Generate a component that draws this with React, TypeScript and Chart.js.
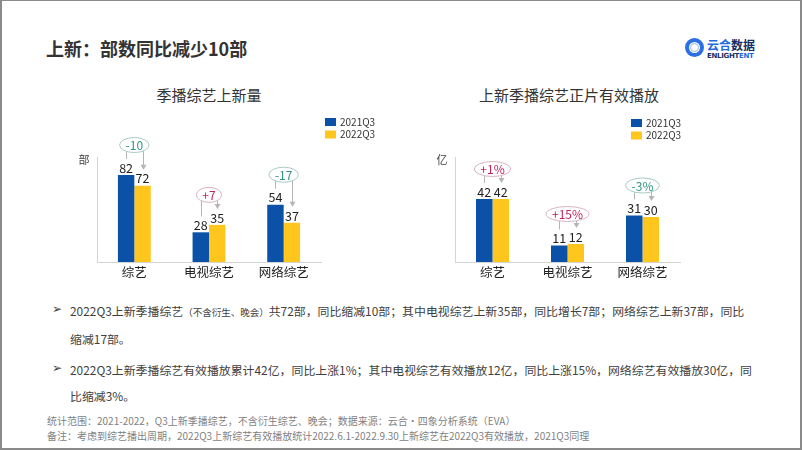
import React, { useEffect, useRef } from "react";
import { Chart, registerables } from "chart.js";

Chart.register(...registerables);

const categories = ["综艺", "电视综艺", "网络综艺"];
const seriesNames = ["2021Q3", "2022Q3"];
const newShows2021 = [82, 28, 54];
const newShows2022 = [72, 35, 37];
const newShowsChange = ["-10", "+7", "-17"];
const plays2021 = [42, 11, 31];
const plays2022 = [42, 12, 30];
const playsChange = ["+1%", "+15%", "-3%"];

const BLUE = "#0a51a7";
const YELLOW = "#ffc61e";
const FONT = "'Noto Sans CJK SC', 'Noto Sans', sans-serif";

type ChartProps = {
  a: number[];
  b: number[];
  changes: string[];
  yMax: number;
  unit: string;
  width: number;
  height: number;
  padding: { left: number; right: number; top: number; bottom: number };
  legendX: number;
  legendY: number;
};

const annotPlugin = {
  id: "annot",
  beforeDatasetsDraw(chart: any, _args: any, opts: any) {
    const { ctx, chartArea } = chart;
    ctx.save();
    ctx.strokeStyle = "#d4d4d4";
    ctx.lineWidth = 1;
    ctx.beginPath();
    ctx.moveTo(Math.round(chartArea.left) + 0.5, chartArea.top);
    ctx.lineTo(Math.round(chartArea.left) + 0.5, chartArea.bottom);
    ctx.stroke();
    ctx.fillStyle = "#404040";
    ctx.font = `11px ${FONT}`;
    ctx.textAlign = "center";
    ctx.textBaseline = "middle";
    ctx.fillText(opts.unit, chartArea.left - 13, chartArea.top + 3);
    ctx.restore();
  },
  afterDatasetsDraw(chart: any, _args: any, opts: any) {
    const { ctx } = chart;
    const m0 = chart.getDatasetMeta(0);
    const m1 = chart.getDatasetMeta(1);
    const ds = chart.data.datasets;
    ctx.save();
    // value labels
    ctx.font = `12.5px ${FONT}`;
    ctx.fillStyle = "#222";
    ctx.textAlign = "center";
    ctx.textBaseline = "middle";
    [m0, m1].forEach((m: any, di: number) => {
      m.data.forEach((bar: any, i: number) => {
        ctx.fillText(String(ds[di].data[i]), bar.x, bar.y - 7);
      });
    });
    // bubbles
    const changes: string[] = opts.changes;
    m0.data.forEach((b0: any, i: number) => {
      const b1 = m1.data[i];
      const txt = changes[i];
      const pos = txt.startsWith("+");
      const cx = (b0.x + b1.x) / 2;
      const labelTop = Math.min(b0.y, b1.y) - 7;
      const cy = labelTop - 23;
      ctx.font = `12px ${FONT}`;
      const tw = ctx.measureText(txt).width;
      const rx = tw / 2 + 6;
      const ry = 7.5;
      // connectors
      ctx.strokeStyle = "#b5b5b5";
      ctx.fillStyle = "#b5b5b5";
      ctx.lineWidth = 1;
      [b0, b1].forEach((b: any, k: number) => {
        const bx = Math.round(b.x) + 0.5;
        const dx = bx - cx;
        const ys = Math.abs(dx) < rx ? cy + ry * Math.sqrt(1 - (dx / rx) * (dx / rx)) : cy;
        const ye = b.y - 16;
        ctx.beginPath();
        ctx.moveTo(bx, ys);
        ctx.lineTo(bx, k === 1 ? ye - 4 : ye);
        ctx.stroke();
        if (k === 1) {
          ctx.beginPath();
          ctx.moveTo(bx - 3, ye - 5);
          ctx.lineTo(bx + 3, ye - 5);
          ctx.lineTo(bx, ye);
          ctx.closePath();
          ctx.fill();
        }
      });
      ctx.beginPath();
      ctx.ellipse(cx, cy, rx, ry, 0, 0, Math.PI * 2);
      ctx.fillStyle = "#ffffff";
      ctx.fill();
      ctx.strokeStyle = pos ? "#d9b3c3" : "#a9cbc4";
      ctx.stroke();
      ctx.fillStyle = pos ? "#c2235f" : "#2f9384";
      ctx.textAlign = "center";
      ctx.textBaseline = "middle";
      ctx.fillText(txt, cx, cy + 0.5);
    });
    // legend
    ctx.font = `10px ${FONT}`;
    ctx.textAlign = "left";
    ctx.textBaseline = "middle";
    ds.forEach((d: any, k: number) => {
      const y = opts.legendY + k * 12.5;
      ctx.fillStyle = d.backgroundColor;
      ctx.fillRect(opts.legendX, y, 11, 8);
      ctx.fillStyle = "#333";
      ctx.fillText(d.label, opts.legendX + 15, y + 4);
    });
    ctx.restore();
  },
};

function BarChart(props: ChartProps) {
  const ref = useRef<HTMLCanvasElement>(null);
  useEffect(() => {
    if (!ref.current) return;
    const chart = new Chart(ref.current, {
      type: "bar",
      data: {
        labels: categories,
        datasets: [
          { label: seriesNames[0], data: props.a, backgroundColor: BLUE, categoryPercentage: 0.44, barPercentage: 1 },
          { label: seriesNames[1], data: props.b, backgroundColor: YELLOW, categoryPercentage: 0.44, barPercentage: 1 },
        ],
      },
      options: {
        responsive: false,
        animation: false,
        devicePixelRatio: 1,
        layout: { padding: props.padding },
        plugins: {
          legend: { display: false },
          tooltip: { enabled: false },
          annot: {
            changes: props.changes,
            unit: props.unit,
            legendX: props.legendX,
            legendY: props.legendY,
          },
        } as any,
        scales: {
          x: {
            grid: { display: false, drawTicks: false },
            border: { display: true, color: "#d4d4d4" },
            ticks: { color: "#222", font: { size: 12.5, family: FONT }, padding: 3 },
          },
          y: { display: false, min: 0, max: props.yMax },
        },
      },
      plugins: [annotPlugin],
    });
    return () => chart.destroy();
  }, []);
  return <canvas ref={ref} width={props.width} height={props.height} style={{ width: props.width, height: props.height, display: "block" }} />;
}

const abs = (l: number, t: number): React.CSSProperties => ({ position: "absolute", left: l, top: t });

export default function App() {
  const textStyle: React.CSSProperties = { fontSize: 11.9, color: "#404040", whiteSpace: "nowrap", lineHeight: "16px" };
  const foot: React.CSSProperties = { fontSize: 10, color: "#7f7f7f", whiteSpace: "nowrap", lineHeight: "14px" };
  return (
    <div
      style={{
        position: "fixed",
        left: 0,
        top: 0,
        width: 802,
        height: 451,
        background: "#fff",
        fontFamily: FONT,
        overflow: "hidden",
      }}
    >
      <div style={{ position: "absolute", left: 0, top: 0, width: 802, height: 450, boxSizing: "border-box", borderStyle: "solid", borderColor: "#8a8a8a", borderWidth: "1px 2px 2px 2px" }} />
      <div style={{ ...abs(46, 35), fontSize: 18, fontWeight: 700, color: "#333", lineHeight: "26px", whiteSpace: "nowrap" }}>上新：部数同比减少10部</div>
      {/* logo */}
      <div style={{ ...abs(685, 38), width: 19, height: 19, borderRadius: "50%", boxSizing: "border-box", border: "4px solid #2b6fe3" }} />
      <div style={{ ...abs(690, 43), width: 9, height: 9, borderRadius: "50%", boxSizing: "border-box", border: "1.5px solid #8fb4f2" }} />
      <div style={{ ...abs(707, 37), fontSize: 12, fontWeight: 700, lineHeight: "15px", whiteSpace: "nowrap", letterSpacing: 0 }}>
        <span style={{ color: "#2468e0" }}>云合</span>
        <span style={{ color: "#1b2d5e" }}>数据</span>
      </div>
      <div style={{ ...abs(707, 52), fontSize: 7, fontWeight: 700, lineHeight: "8px", whiteSpace: "nowrap", fontFamily: "'DejaVu Sans', sans-serif", letterSpacing: -0.3 }}>
        <span style={{ color: "#1b2d5e" }}>ENLIGHT</span>
        <span style={{ color: "#2468e0" }}>ENT</span>
      </div>

      <div style={{ ...abs(109, 86), width: 200, textAlign: "center", fontSize: 15, color: "#333", lineHeight: "18px" }}>季播综艺上新量</div>
      <div style={{ ...abs(469, 86), width: 200, textAlign: "center", fontSize: 15, color: "#333", lineHeight: "18px" }}>上新季播综艺正片有效播放</div>

      <div style={abs(60, 105)}>
        <BarChart
          a={newShows2021}
          b={newShows2022}
          changes={newShowsChange}
          yMax={99}
          unit="部"
          width={340}
          height={185}
          padding={{ left: 37, right: 79, top: 52, bottom: 7 }}
          legendX={265}
          legendY={13}
        />
      </div>
      <div style={abs(420, 105)}>
        <BarChart
          a={plays2021}
          b={plays2022}
          changes={playsChange}
          yMax={70}
          unit="亿"
          width={300}
          height={185}
          padding={{ left: 35, right: 40, top: 52, bottom: 7 }}
          legendX={211}
          legendY={14}
        />
      </div>

      <div style={{ ...abs(52, 302), fontSize: 12, color: "#404040", fontFamily: "'DejaVu Sans', sans-serif" }}>➢</div>
      <div style={{ ...abs(70, 303), ...textStyle }}>
        2022Q3上新季播综艺<span style={{ fontSize: 9.5 }}>（不含衍生、晚会）</span>共72部，同比缩减10部；其中电视综艺上新35部，同比增长7部；网络综艺上新37部，同比
      </div>
      <div style={{ ...abs(70, 331), ...textStyle }}>缩减17部。</div>
      <div style={{ ...abs(52, 361), fontSize: 12, color: "#404040", fontFamily: "'DejaVu Sans', sans-serif" }}>➢</div>
      <div style={{ ...abs(70, 362), ...textStyle }}>
        2022Q3上新季播综艺有效播放累计42亿，同比上涨1%；其中电视综艺有效播放12亿，同比上涨15%，网络综艺有效播放30亿，同
      </div>
      <div style={{ ...abs(70, 388), ...textStyle }}>比缩减3%。</div>

      <div style={{ ...abs(47, 414), ...foot }}>统计范围：2021-2022，Q3上新季播综艺，不含衍生综艺、晚会；数据来源：云合·四象分析系统（EVA）</div>
      <div style={{ ...abs(47, 429), ...foot }}>备注：考虑到综艺播出周期，2022Q3上新综艺有效播放统计2022.6.1-2022.9.30上新综艺在2022Q3有效播放，2021Q3同理</div>
    </div>
  );
}
